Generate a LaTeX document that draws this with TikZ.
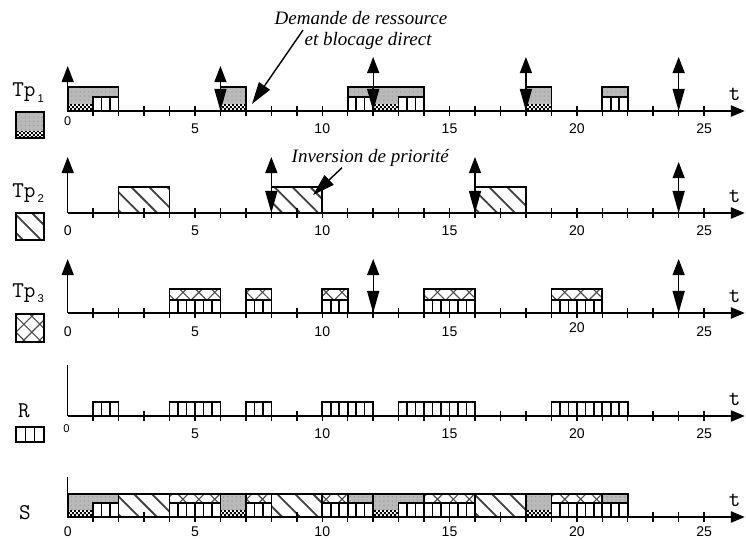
\documentclass[tikz,border=0pt]{standalone}
\usepackage{fontspec}
\setmainfont{Liberation Serif}
\setsansfont{Liberation Sans}
\usetikzlibrary{arrows.meta,patterns,patterns.meta}

% small black and white squares
\pgfdeclarepatternformonly{damier}{\pgfpointorigin}{\pgfqpoint{2.8pt}{2.8pt}}{\pgfqpoint{2.8pt}{2.8pt}}{%
  \pgfpathrectangle{\pgfpointorigin}{\pgfqpoint{1.4pt}{1.4pt}}
  \pgfpathrectangle{\pgfqpoint{1.4pt}{1.4pt}}{\pgfqpoint{1.4pt}{1.4pt}}
  \pgfusepath{fill}}

% a job of Tp1 (start, end, height in px)
\newcommand{\jobun}[3]{%
  \fill[gray!55] (#1,0) rectangle (#2,-#3);
  \fill[pattern=dots, pattern color=black!40] (#1,0) rectangle (#2,-#3);
  \fill[white] (#1,0) rectangle (#2,-7);
  \fill[pattern=damier] (#1,0) rectangle (#2,-7);
  \draw[bx] (#1,0) rectangle (#2,-#3);}
% a job of Tp2
\newcommand{\jobdeux}[3]{%
  \fill[white] (#1,0) rectangle (#2,-#3);
  \fill[pattern={Lines[angle=-45,distance=9pt,line width=1.3pt]}, pattern color=black!75] (#1,0) rectangle (#2,-#3);
  \draw[bx] (#1,0) rectangle (#2,-#3);}
% a job of Tp3
\newcommand{\jobtrois}[3]{%
  \fill[white] (#1,0) rectangle (#2,-#3);
  \fill[pattern={Lines[angle=45,distance=8pt,line width=0.8pt]}, pattern color=black!70] (#1,0) rectangle (#2,-#3);
  \fill[pattern={Lines[angle=-45,distance=8pt,line width=0.8pt]}, pattern color=black!70] (#1,0) rectangle (#2,-#3);
  \draw[bx] (#1,0) rectangle (#2,-#3);}
% resource R held, over the bottom of a job
\newcommand{\resbox}[3]{%
  \fill[white] (#1,0) rectangle (#2,-#3);
  \pgfmathtruncatemacro{\nb}{round(3*(#2-#1))-1}
  \foreach \k in {1,...,\nb} \draw[bar] (#1+\k/3,0) -- ++(0,-#3);
  \draw[bx] (#1,0) rectangle (#2,-#3);}
% time axis (row name, labelled ticks, label offset)
\newcommand{\axe}[3]{%
  \foreach \tm in {1,...,25} \draw[tk] (\tm,-5) -- (\tm,5);
  \draw[ax] (0,0) -- (26.6,0);
  \foreach \tm in {#2} \node[num] (#1n\tm) at (\tm,#3) {\tm};
  \node[tt, anchor=base] (#1t) at (26.2,-11) {t};}

\begin{document}
\begin{tikzpicture}[x=0.025cm, y=-0.025cm,
  bx/.style={draw, line width=1.2pt},
  bar/.style={line width=1.1pt},
  tk/.style={line width=1pt},
  ax/.style={line width=1.3pt, -{Triangle[length=0.35cm,width=0.28cm]}},
  vl/.style={line width=1pt},
  rel/.style={line width=0.9pt, -{Triangle[length=0.4cm,width=0.3cm]}},
  dl/.style={line width=0.9pt, -{Triangle[length=0.55cm,width=0.3cm]}},
  annot/.style={line width=1pt, -{Triangle[length=0.55cm,width=0.33cm]}},
  num/.style={font=\sffamily\fontsize{10}{10}\selectfont, anchor=base, inner sep=0pt},
  tt/.style={font=\ttfamily\fontsize{16}{16}\selectfont, inner sep=0pt},
  note/.style={font=\itshape\fontsize{13.5}{15}\selectfont, inner sep=1pt}]
  \useasboundingbox (0,0) rectangle (746,539);

  % Tp1
  \begin{scope}[shift={(67.7,111)}, x=0.63625cm]
    \jobun{0}{2}{24} \resbox{1}{2}{14}
    \jobun{6}{7}{24}
    \jobun{11}{12}{24} \resbox{11}{12}{14}
    \jobun{12}{14}{24} \resbox{13}{14}{14}
    \jobun{18}{19}{24}
    \jobun{21}{22}{24} \resbox{21}{22}{14}
    \axe{a}{5,10,...,25}{22}
    \node[num, font=\sffamily\fontsize{9}{9}\selectfont] (a0) at (0,14) {0};
    \draw[rel] (0,0) -- (0,-45);
    \draw[rel] (6,0) -- (6,-45);
    \foreach \tm in {12,18,24} \draw[rel] (\tm,0) -- (\tm,-54);
    \foreach \tm in {6,12,18,24} \draw[dl] (\tm,-26) -- (\tm,0);
    \coordinate (blocage) at (7.24,-7);
  \end{scope}

  % Tp2
  \begin{scope}[shift={(67.7,213)}, x=0.63625cm]
    \jobdeux{2}{4}{26}
    \jobdeux{8}{10}{26}
    \jobdeux{16}{18}{26}
    \axe{b}{0,5,10,...,25}{22}
    \foreach \tm in {0,8,16} \draw[rel] (\tm,0) -- (\tm,-56);
    \draw[rel] (24,0) -- (24,-51);
    \foreach \tm in {8,16,24} \draw[dl] (\tm,-26) -- (\tm,0);
    \coordinate (inversion) at (9.64,-18);
  \end{scope}

  % Tp3
  \begin{scope}[shift={(67.7,313)}, x=0.63625cm]
    \jobtrois{4}{6}{24} \resbox{4}{6}{13}
    \jobtrois{7}{8}{24} \resbox{7}{8}{13}
    \jobtrois{10}{11}{24} \resbox{10}{11}{13}
    \jobtrois{14}{16}{24} \resbox{14}{16}{13}
    \jobtrois{19}{21}{24} \resbox{19}{21}{13}
    \axe{c}{0,5,10,15,25}{23}
    \node[num] (cn20) at (20,19) {20};
    \foreach \tm in {0,12,24} \draw[rel] (\tm,0) -- (\tm,-54);
    \foreach \tm in {12,24} \draw[dl] (\tm,-26) -- (\tm,0);
  \end{scope}

  % R
  \begin{scope}[shift={(67.7,416)}, x=0.63625cm]
    \foreach \a/\b in {1/2,4/6,7/8,10/11,11/12,13/14,14/16,19/21,21/22}
      \resbox{\a}{\b}{14};
    \axe{d}{5,10,...,25}{22}
    \node[num, font=\sffamily\fontsize{8}{8}\selectfont] (d0) at (-0.05,16) {0};
    \draw[vl] (0,0) -- (0,-51);
  \end{scope}

  % S
  \begin{scope}[shift={(67.7,517)}, x=0.63625cm]
    \jobun{0}{2}{23} \resbox{1}{2}{14}
    \jobdeux{2}{4}{23}
    \jobtrois{4}{6}{23} \resbox{4}{6}{14}
    \jobun{6}{7}{23}
    \jobtrois{7}{8}{23} \resbox{7}{8}{14}
    \jobdeux{8}{10}{23}
    \jobtrois{10}{11}{23} \resbox{10}{11}{14}
    \jobun{11}{12}{23} \resbox{11}{12}{14}
    \jobun{12}{14}{23} \resbox{13}{14}{14}
    \jobtrois{14}{16}{23} \resbox{14}{16}{14}
    \jobdeux{16}{18}{23}
    \jobun{18}{19}{23}
    \jobtrois{19}{21}{23} \resbox{19}{21}{14}
    \jobun{21}{22}{23} \resbox{21}{22}{14}
    \axe{e}{0,5,10,...,25}{19}
    \draw[vl] (0,0) -- (0,-40);
  \end{scope}

  % labels and legend
  \node[tt, anchor=base west] (tpa) at (12,97) {Tp\kern1.5pt\raisebox{-4pt}{\sffamily\fontsize{8}{8}\selectfont 1}};
  \node[tt, anchor=base west] (tpb) at (12,197) {Tp\kern1.5pt\raisebox{-4pt}{\sffamily\fontsize{8}{8}\selectfont 2}};
  \node[tt, anchor=base west] (tpc) at (12,297) {Tp\kern1.5pt\raisebox{-4pt}{\sffamily\fontsize{8}{8}\selectfont 3}};
  \node[tt, anchor=base] (rl) at (24,417) {R};
  \node[tt, anchor=base] (sl) at (25,519) {S};
  \begin{scope}[shift={(16,138)}, x=0.7cm] \jobun{0}{1}{26} \end{scope}
  \begin{scope}[shift={(16,240)}, x=0.7cm] \jobdeux{0}{1}{27} \end{scope}
  \begin{scope}[shift={(16,342)}, x=0.7cm] \jobtrois{0}{1}{28} \end{scope}
  \begin{scope}[shift={(16,442)}, x=0.7cm] \resbox{0}{1}{15} \end{scope}

  % notes
  \node[note, anchor=base] (dem) at (361,25) {Demande de ressource};
  \node[note, anchor=base west] (blo) at (303,45) {et blocage direct};
  \node[note, anchor=base west] (inv) at (290,162) {Inversion de priorité};
  \draw[annot] (blo.north west) -- (blocage);
  \draw[annot] ([xshift=1.3cm]inv.south west) -- (inversion);
\end{tikzpicture}
\end{document}
